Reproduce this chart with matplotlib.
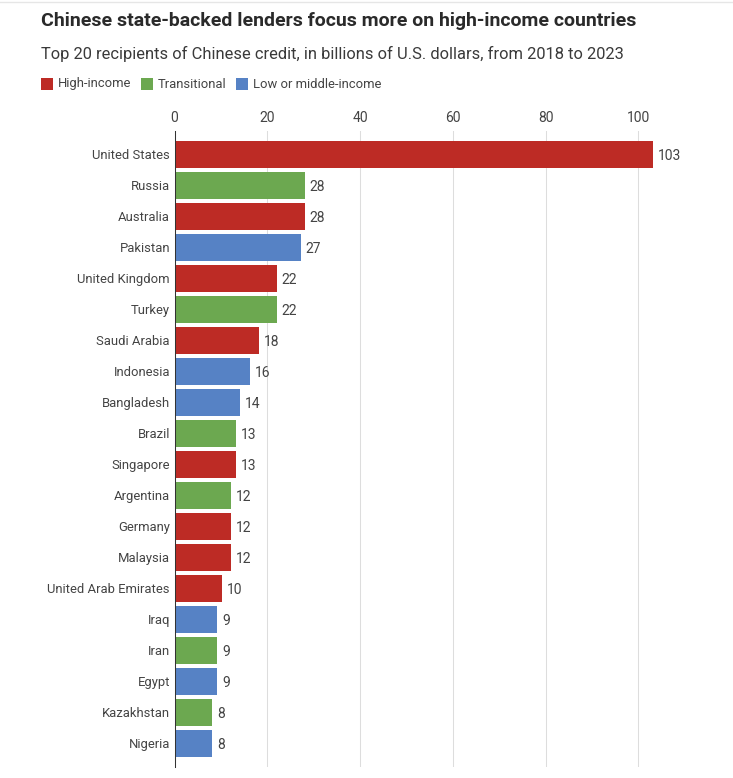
import matplotlib
matplotlib.use("Agg")
import matplotlib.pyplot as plt
from matplotlib.patches import Rectangle
from matplotlib.lines import Line2D

countries = ["United States", "Russia", "Australia", "Pakistan", "United Kingdom", "Turkey",
             "Saudi Arabia", "Indonesia", "Bangladesh", "Brazil", "Singapore", "Argentina",
             "Germany", "Malaysia", "United Arab Emirates", "Iraq", "Iran", "Egypt",
             "Kazakhstan", "Nigeria"]
values = [103.1, 28.1, 28.1, 27.2, 22.1, 22.1, 18.2, 16.3, 14.1, 13.3, 13.3, 12.2, 12.2, 12.2,
          10.2, 9.2, 9.2, 9.2, 8.1, 8.1]
groups = ["H", "T", "H", "L", "H", "T", "H", "L", "L", "T", "H", "T", "H", "H", "H", "L", "T",
          "L", "T", "L"]
group_names = {"H": "High-income", "T": "Transitional", "L": "Low or middle-income"}
group_colors = {"H": "#BD2B25", "T": "#6CA850", "L": "#5682C5"}
x_ticks = [0, 20, 40, 60, 80, 100]

W, H = 733, 778
FONT = "Roboto"
plt.rcParams["font.family"] = [FONT, "DejaVu Sans"]
TXT = "#444444"
fig = plt.figure(figsize=(W / 100, H / 100), dpi=100, facecolor="white")


def fx(px):
    return px / W


def fy(py):
    return 1 - py / H


left, right, top, bottom = 174.5, 653.0, 131.0, 767.0
ax = fig.add_axes([fx(left), fy(bottom), fx(right - left), (bottom - top) / H])
ax.set_xlim(0, (right - left) / 4.638)
ax.set_ylim((bottom - 154.3) / 31.0, (top - 154.3) / 31.0)
ax.patch.set_alpha(0)
for s in ax.spines.values():
    s.set_visible(False)
ax.spines["left"].set_visible(True)
ax.spines["left"].set_color("#333333")
ax.spines["left"].set_linewidth(0.75)

ypos = list(range(len(countries)))
ax.barh(ypos, values, height=26.7 / 31.0, color=[group_colors[g] for g in groups], zorder=2)
ax.set_axisbelow(True)
ax.set_xticks(x_ticks)
ax.xaxis.tick_top()
ax.xaxis.grid(True, color="#DDDDDD", linewidth=0.75, zorder=0)
ax.tick_params(axis="x", length=0, pad=4.5, labelsize=10, labelcolor=TXT)
ax.set_yticks(ypos, countries)
ax.tick_params(axis="y", length=0, pad=3.3, labelsize=9.4, labelcolor=TXT)
for y, v in zip(ypos, values):
    ax.annotate(f"{round(v)}", (v, y), xytext=(3.4, 0), textcoords="offset points",
                ha="left", va="center_baseline", fontsize=10, color=TXT)

fig.text(fx(41), fy(21.5), "Chinese state-backed lenders focus more on high-income countries",
         fontsize=14.0, fontweight="bold", color="#2A2A2A", va="center", ha="left")
fig.text(fx(41), fy(53.5), "Top 20 recipients of Chinese credit, in billions of U.S. dollars, from 2018 to 2023",
         fontsize=11.9, color="#3A3A3A", va="center", ha="left")

legend_x = {"H": (41, 58), "T": (141, 158), "L": (236, 253)}
for k in ["H", "T", "L"]:
    bx, tx = legend_x[k]
    fig.add_artist(Rectangle((fx(bx), fy(90)), 12 / W, 12 / H, transform=fig.transFigure,
                             facecolor=group_colors[k], edgecolor="none"))
    fig.text(fx(tx), fy(84), group_names[k], fontsize=9.4, color=TXT, va="center", ha="left")

fig.add_artist(Line2D([0, 1], [fy(1.5), fy(1.5)], transform=fig.transFigure, color="#E6E6E6", lw=1))
fig.savefig("out.png", dpi=100)
